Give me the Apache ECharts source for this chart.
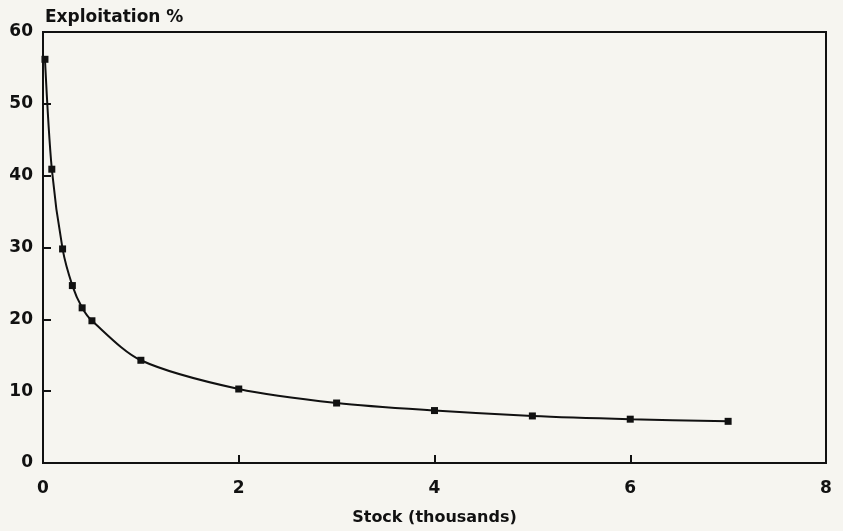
<!DOCTYPE html>
<html>
<head>
<meta charset="utf-8">
<script src="https://cdn.jsdelivr.net/npm/echarts@6/dist/echarts.min.js"></script>
<style>
  html, body { margin: 0; padding: 0; background: #f6f5f0; }
  #chart { width: 843px; height: 531px; }
</style>
</head>
<body>
<div id="chart"></div>
<script>
// Stock size (thousands) and exploitation rate (%)
const stock = [0.02, 0.09, 0.2, 0.3, 0.4, 0.5, 1, 2, 3, 4, 5, 6, 7];
const exploitation = [56.2, 40.9, 29.8, 24.7, 21.6, 19.8, 14.3, 10.3, 8.35, 7.3, 6.55, 6.1, 5.8];

const xTicks = { min: 0, max: 8, interval: 2 };
const yTicks = { min: 0, max: 60, interval: 10 };

const ink = '#111';
const font = 'DejaVu Sans';

const chart = echarts.init(document.getElementById('chart'));
chart.setOption({
  backgroundColor: '#f6f5f0',
  animation: false,
  title: {
    text: 'Exploitation %',
    left: 40,
    top: 4,
    textStyle: { fontFamily: font, fontWeight: 'bold', fontSize: 17, color: ink }
  },
  grid: {
    left: 43, top: 32, right: 17, bottom: 63,
    show: true, borderColor: ink, borderWidth: 2, backgroundColor: 'transparent'
  },
  xAxis: {
    type: 'value',
    min: xTicks.min, max: xTicks.max, interval: xTicks.interval,
    name: 'Stock (thousands)',
    nameLocation: 'middle',
    nameGap: 47,
    nameTextStyle: { fontFamily: font, fontWeight: 'bold', fontSize: 16, color: ink },
    axisLine: { show: true, lineStyle: { color: ink, width: 2 } },
    axisTick: { show: true, inside: true, length: 8, lineStyle: { color: ink, width: 2 } },
    axisLabel: { fontFamily: font, fontWeight: 'bold', fontSize: 17, color: ink, margin: 17 },
    splitLine: { show: false }
  },
  yAxis: {
    type: 'value',
    min: yTicks.min, max: yTicks.max, interval: yTicks.interval,
    axisLine: { show: true, lineStyle: { color: ink, width: 2 } },
    axisTick: { show: true, inside: true, length: 8, lineStyle: { color: ink, width: 2 } },
    axisLabel: { fontFamily: font, fontWeight: 'bold', fontSize: 17, color: ink, margin: 10 },
    splitLine: { show: false }
  },
  series: [{
    type: 'line',
    data: stock.map((s, i) => [s, exploitation[i]]),
    smooth: 0.3,
    symbol: 'rect',
    symbolSize: 7,
    itemStyle: { color: ink },
    lineStyle: { color: ink, width: 2 }
  }]
});
</script>
</body>
</html>
